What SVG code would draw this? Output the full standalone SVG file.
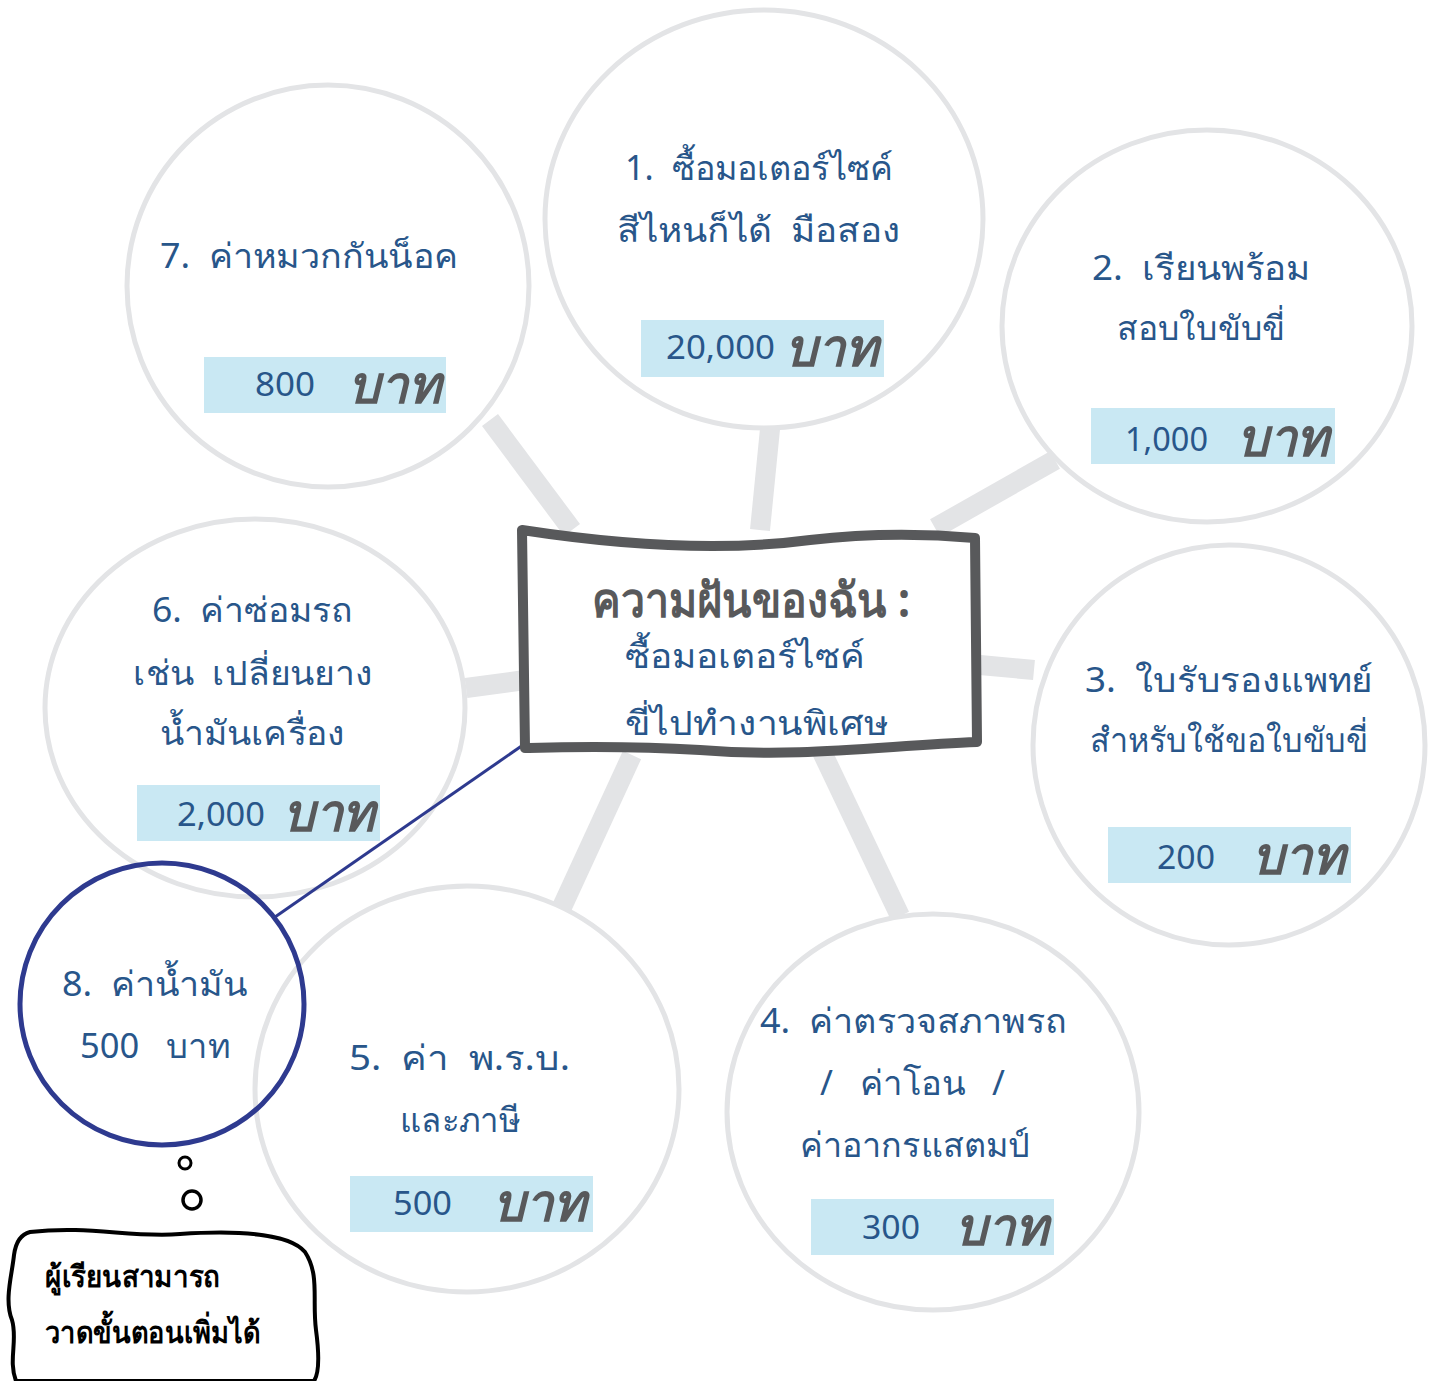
<svg xmlns="http://www.w3.org/2000/svg" width="1435" height="1381" viewBox="0 0 1435 1381">
<style>
.ring{fill:#fff;stroke:#e3e4e6;stroke-width:5}
.spoke{stroke:#e3e4e6;stroke-width:20;stroke-linecap:butt}
text{white-space:pre}
.t{font-family:"Noto Sans","DejaVu Sans",sans-serif;font-size:34px;fill:#28568a}
.price{fill:#c9e8f3}
.num{font-family:"Noto Sans","DejaVu Sans",sans-serif;font-size:32px;fill:#28568a}
.baht{font-family:"Noto Sans","DejaVu Sans",sans-serif;font-size:52px;font-weight:bold;font-style:italic;fill:#58595b}
</style>
<rect width="1435" height="1381" fill="#fff"/>
<g id="node7"><ellipse class="ring" cx="328" cy="286" rx="201" ry="201"/>
<text class="t" x="160" y="268" textLength="298" lengthAdjust="spacingAndGlyphs">7.  ค่าหมวกกันน็อค</text>
<rect class="price" x="204" y="357" width="242" height="56"/>
<text class="num" x="255" y="396" textLength="60" lengthAdjust="spacingAndGlyphs">800</text><text class="baht" x="348" y="403" textLength="93" lengthAdjust="spacingAndGlyphs">บาท</text></g>
<g id="node1"><ellipse class="ring" cx="764" cy="219" rx="219" ry="209"/>
<text class="t" x="625" y="180" textLength="268" lengthAdjust="spacingAndGlyphs">1.  ซื้อมอเตอร์ไซค์</text>
<text class="t" x="617" y="242" textLength="283" lengthAdjust="spacingAndGlyphs">สีไหนก็ได้  มือสอง</text>
<rect class="price" x="641" y="320" width="243" height="57"/>
<text class="num" x="666" y="359" textLength="109" lengthAdjust="spacingAndGlyphs">20,000</text><text class="baht" x="785" y="366" textLength="93" lengthAdjust="spacingAndGlyphs">บาท</text></g>
<g id="node2"><ellipse class="ring" cx="1207" cy="326" rx="205" ry="196"/>
<text class="t" x="1092" y="280" textLength="218" lengthAdjust="spacingAndGlyphs">2.  เรียนพร้อม</text>
<text class="t" x="1117" y="340" textLength="168" lengthAdjust="spacingAndGlyphs">สอบใบขับขี่</text>
<rect class="price" x="1091" y="408" width="244" height="56"/>
<text class="num" x="1125" y="451" textLength="83" lengthAdjust="spacingAndGlyphs">1,000</text><text class="baht" x="1237" y="456" textLength="92" lengthAdjust="spacingAndGlyphs">บาท</text></g>
<g id="node6"><ellipse class="ring" cx="255" cy="708" rx="210" ry="189"/>
<text class="t" x="152" y="622" textLength="201" lengthAdjust="spacingAndGlyphs">6.  ค่าซ่อมรถ</text>
<text class="t" x="133" y="685" textLength="240" lengthAdjust="spacingAndGlyphs">เช่น  เปลี่ยนยาง</text>
<text class="t" x="160" y="745" textLength="185" lengthAdjust="spacingAndGlyphs">น้ำมันเครื่อง</text>
<rect class="price" x="137" y="785" width="243" height="56"/>
<text class="num" x="177" y="826" textLength="88" lengthAdjust="spacingAndGlyphs">2,000</text><text class="baht" x="283" y="831" textLength="92" lengthAdjust="spacingAndGlyphs">บาท</text></g>
<g id="node3"><ellipse class="ring" cx="1229" cy="745" rx="196" ry="200"/>
<text class="t" x="1085" y="692" textLength="288" lengthAdjust="spacingAndGlyphs">3.  ใบรับรองแพทย์</text>
<text class="t" x="1090" y="752" textLength="278" lengthAdjust="spacingAndGlyphs">สำหรับใช้ขอใบขับขี่</text>
<rect class="price" x="1108" y="827" width="243" height="56"/>
<text class="num" x="1157" y="869" textLength="58" lengthAdjust="spacingAndGlyphs">200</text><text class="baht" x="1252" y="874" textLength="93" lengthAdjust="spacingAndGlyphs">บาท</text></g>
<g id="node4"><ellipse class="ring" cx="933" cy="1112" rx="206" ry="198"/>
<text class="t" x="760" y="1033" textLength="307" lengthAdjust="spacingAndGlyphs">4.  ค่าตรวจสภาพรถ</text>
<text class="t" x="820" y="1095" textLength="185" lengthAdjust="spacingAndGlyphs">/   ค่าโอน   /</text>
<text class="t" x="800" y="1157" textLength="230" lengthAdjust="spacingAndGlyphs">ค่าอากรแสตมป์</text>
<rect class="price" x="811" y="1199" width="243" height="56"/>
<text class="num" x="862" y="1239" textLength="58" lengthAdjust="spacingAndGlyphs">300</text><text class="baht" x="955" y="1245" textLength="93" lengthAdjust="spacingAndGlyphs">บาท</text></g>
<g id="node5"><ellipse class="ring" cx="467" cy="1089" rx="212" ry="203"/>
<text class="t" x="349" y="1070" textLength="221" lengthAdjust="spacingAndGlyphs">5.  ค่า  พ.ร.บ.</text>
<text class="t" x="400" y="1132" textLength="120" lengthAdjust="spacingAndGlyphs">และภาษี</text>
<rect class="price" x="350" y="1176" width="243" height="56"/>
<text class="num" x="393" y="1215" textLength="59" lengthAdjust="spacingAndGlyphs">500</text><text class="baht" x="493" y="1221" textLength="93" lengthAdjust="spacingAndGlyphs">บาท</text></g>
<g id="connectors">
<line class="spoke" x1="490" y1="420" x2="572" y2="530"/>
<line class="spoke" x1="770" y1="429" x2="760" y2="530"/>
<line class="spoke" x1="1055" y1="460" x2="935" y2="528"/>
<line class="spoke" x1="466" y1="688" x2="525" y2="680"/>
<line class="spoke" x1="980" y1="665" x2="1034" y2="670"/>
<line class="spoke" x1="822" y1="752" x2="900" y2="916"/>
<line class="spoke" x1="632" y1="755" x2="562" y2="907"/>
<line x1="523" y1="745" x2="275" y2="917" stroke="#2e3a8f" stroke-width="3"/>
</g>
<g id="node8"><ellipse cx="162" cy="1004" rx="142" ry="141" fill="none" stroke="#2e3a8f" stroke-width="5"/>
<text class="t" x="62" y="996" textLength="185" lengthAdjust="spacingAndGlyphs">8.  ค่าน้ำมัน</text>
<text class="t" x="80" y="1058" textLength="150" lengthAdjust="spacingAndGlyphs">500   บาท</text></g>
<g id="center">
<path d="M522,530 C620,545 720,552 810,540 C870,533 930,534 975,538 L977,742 C880,746 800,758 700,750 C620,745 560,747 525,748 Z" fill="#fff" stroke="#58595b" stroke-width="10" stroke-linejoin="round"/>
<text x="592" y="617" textLength="318" lengthAdjust="spacingAndGlyphs" font-family="Noto Sans,DejaVu Sans,sans-serif" font-size="48" font-weight="bold" fill="#58595b">ความฝันของฉัน :</text>
<text class="t" x="625" y="668" font-size="40" textLength="240" lengthAdjust="spacingAndGlyphs">ซื้อมอเตอร์ไซค์</text>
<text class="t" x="625" y="735" font-size="40" textLength="263" lengthAdjust="spacingAndGlyphs">ขี่ไปทำงานพิเศษ</text>
</g>
<g id="note">
<circle cx="185" cy="1163" r="6" fill="none" stroke="#000" stroke-width="3"/>
<circle cx="192" cy="1200" r="9" fill="none" stroke="#000" stroke-width="3.5"/>
<path d="M30,1232 C90,1225 130,1238 180,1234 C240,1230 290,1234 305,1252 C320,1275 312,1300 316,1330 C320,1360 318,1375 314,1381 L16,1381 C8,1360 18,1340 12,1320 C4,1300 12,1275 14,1255 C16,1240 22,1234 30,1232 Z" fill="#fff" stroke="#000" stroke-width="4"/>
<text x="45" y="1287" textLength="175" lengthAdjust="spacingAndGlyphs" font-family="Noto Sans,DejaVu Sans,sans-serif" font-size="30" font-weight="bold" fill="#000">ผู้เรียนสามารถ</text>
<text x="45" y="1343" textLength="215" lengthAdjust="spacingAndGlyphs" font-family="Noto Sans,DejaVu Sans,sans-serif" font-size="30" font-weight="bold" fill="#000">วาดขั้นตอนเพิ่มได้</text>
</g>
</svg>
